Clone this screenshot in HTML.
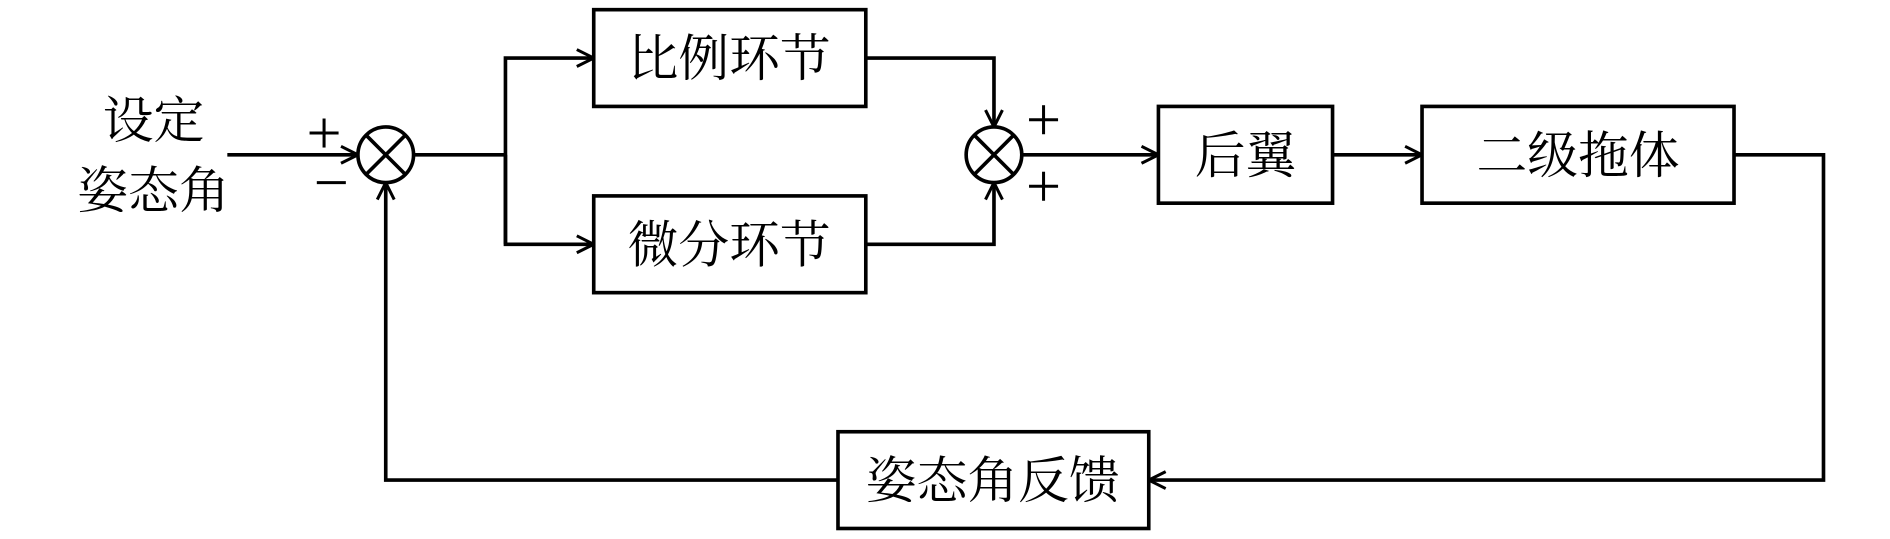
<!DOCTYPE html>
<html><head><meta charset="utf-8"><style>html,body{margin:0;padding:0;background:#fff}svg{display:block}</style></head>
<body>
<svg width="1890" height="539" viewBox="0 0 1563 445.7" preserveAspectRatio="none" xmlns="http://www.w3.org/2000/svg">
<defs>
<marker id="a" viewBox="0 0 20 20" refX="19" refY="10" markerWidth="20" markerHeight="20" markerUnits="userSpaceOnUse" orient="auto">
<path d="M5,3 L19,10 L5,17" fill="none" stroke="#000" stroke-width="2.5"/>
</marker>
</defs>
<g stroke="#000" stroke-width="3" fill="none">
<rect x="491" y="8" width="225" height="80"/>
<rect x="491" y="162" width="225" height="80"/>
<rect x="958" y="88" width="144" height="80"/>
<rect x="1176" y="88" width="258" height="80"/>
<rect x="693" y="357" width="257" height="80"/>
<circle cx="319" cy="128" r="23"/>
<line x1="303" y1="112" x2="335" y2="144"/><line x1="335" y1="112" x2="303" y2="144"/>
<circle cx="822" cy="128" r="23"/>
<line x1="806" y1="112" x2="838" y2="144"/><line x1="838" y1="112" x2="806" y2="144"/>
<line x1="188" y1="128" x2="296" y2="128" marker-end="url(#a)"/>
<line x1="342" y1="128" x2="418" y2="128"/>
<polyline points="418,202 418,48 491,48" marker-end="url(#a)"/>
<polyline points="418,128 418,202 491,202" marker-end="url(#a)"/>
<polyline points="716,48 822,48 822,105" marker-end="url(#a)"/>
<polyline points="716,202 822,202 822,151" marker-end="url(#a)"/>
<line x1="845" y1="128" x2="958" y2="128" marker-end="url(#a)"/>
<line x1="1102" y1="128" x2="1176" y2="128" marker-end="url(#a)"/>
<polyline points="1434,128 1508,128 1508,397 950,397" marker-end="url(#a)"/>
<polyline points="693,397 319,397 319,151" marker-end="url(#a)"/>
</g>
<g font-family="'Liberation Serif','Noto Serif CJK SC',serif" font-size="42" text-anchor="middle" fill="#000">
<text x="603" y="63">比例环节</text>
<text x="603" y="217">微分环节</text>
<text x="1030" y="143">后翼</text>
<text x="1305" y="143">二级拖体</text>
<text x="821" y="412">姿态角反馈</text>
<text x="127" y="114">设定</text>
<text x="127" y="172">姿态角</text>
</g>
<g stroke="#000" stroke-width="2.5">
<line x1="256" y1="110" x2="280" y2="110"/><line x1="268" y1="98" x2="268" y2="122"/>
<line x1="262" y1="151" x2="286" y2="151"/>
<line x1="851" y1="99" x2="875" y2="99"/><line x1="863" y1="87" x2="863" y2="111"/>
<line x1="851" y1="154" x2="875" y2="154"/><line x1="863" y1="142" x2="863" y2="166"/>
</g>
</svg>
</body></html>
